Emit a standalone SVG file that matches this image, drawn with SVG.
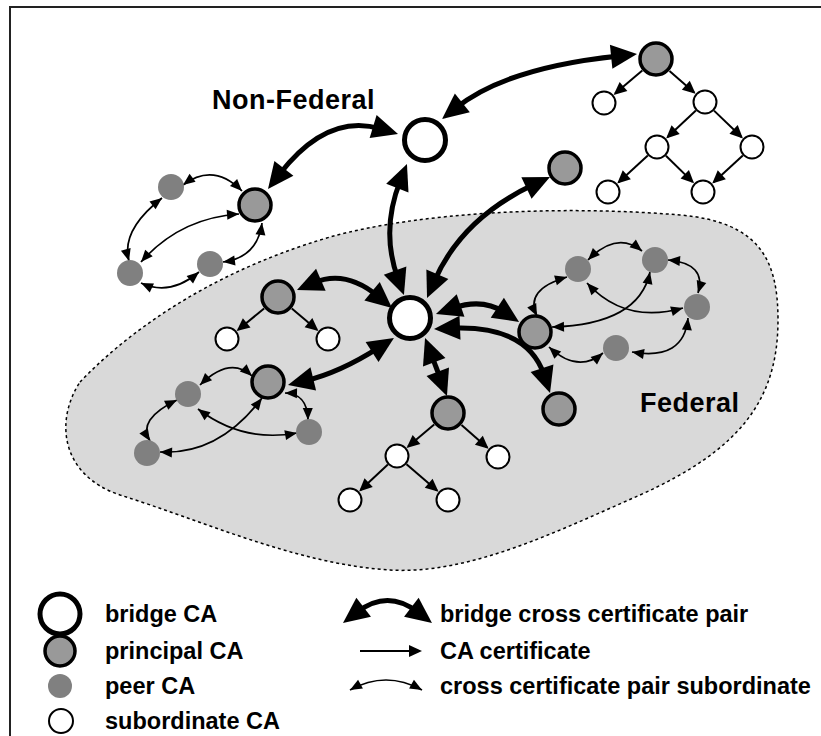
<svg xmlns="http://www.w3.org/2000/svg" width="821" height="736" viewBox="0 0 821 736">
<style>
.bridge{fill:#fff;stroke:#000;stroke-width:5}
.principal{fill:#999;stroke:#000;stroke-width:3.5}
.peer{fill:#808080;stroke:none}
.sub{fill:#fff;stroke:#000;stroke-width:2}
.thick{fill:none;stroke:#000;stroke-width:5;marker-start:url(#bigA);marker-end:url(#bigA)}
.cert{fill:none;stroke:#000;stroke-width:2;marker-end:url(#smA)}
.xpair{fill:none;stroke:#000;stroke-width:1.7;marker-start:url(#xA);marker-end:url(#xA)}
.lbl{font-family:"Liberation Sans",Arial,sans-serif;font-weight:bold;fill:#000}
.big{font-size:27px;letter-spacing:0.5px}
.leg{font-size:23.5px}
</style>
<defs>
<marker id="bigA" markerUnits="userSpaceOnUse" markerWidth="26" markerHeight="24" refX="8" refY="12" orient="auto-start-reverse" overflow="visible"><path d="M0,0 L26,12 L0,24 z" fill="#000"/></marker>
<marker id="smA" markerUnits="userSpaceOnUse" markerWidth="13" markerHeight="12" refX="11" refY="6" orient="auto" overflow="visible"><path d="M0,0 L13,6 L0,12 z" fill="#000"/></marker>
<marker id="xA" markerUnits="userSpaceOnUse" markerWidth="12" markerHeight="10" refX="12" refY="5" orient="auto-start-reverse" overflow="visible"><path d="M0,0 L12,5 L0,10 z" fill="#000"/></marker>
</defs>
<rect x="0" y="0" width="821" height="736" fill="#fff"/>
<rect x="10" y="7" width="840" height="760" fill="none" stroke="#222" stroke-width="2"/>

<g id="federal-region">
<path d="M80,382 C120,340 200,275 330,237 C420,212 560,205 680,215 C760,222 778,260 778,320 C778,400 740,450 640,495 C560,530 470,575 390,570 C300,565 200,520 120,495 C60,475 55,420 80,382 Z" fill="#d9d9d9" stroke="#000" stroke-width="1.5" stroke-dasharray="3,3"/>
</g>

<g id="labels">
<text class="lbl big" x="212" y="109">Non-Federal</text>
<text class="lbl big" x="640" y="412">Federal</text>
</g>

<g id="connectors">
<!-- bridge cross certificate pairs -->
<path class="thick" d="M456.1,107.8 Q506.5,67.5 619.1,55.9"/>
<path class="thick" d="M279,174.7 Q327,112.5 380.8,128.8"/>
<path class="thick" d="M400.3,180.7 Q380.5,230.5 397.8,278.1"/>
<path class="thick" d="M533.7,184.6 Q461.5,218.5 434.2,281.5"/>
<path class="thick" d="M313.5,282.9 Q345.5,269 378.2,296.4"/>
<path class="thick" d="M305.5,380.8 Q340,372.5 378.8,347.7"/>
<path class="thick" d="M431.4,354.8 L440.6,379.2"/>
<path class="thick" d="M453,308.1 Q482.5,298 504,312.1"/>
<path class="thick" d="M452,328.2 Q528,325 544.5,375.9"/>
<!-- CA certificates -->
<path class="cert" d="M642.3,70.6 L615.1,93.6"/>
<path class="cert" d="M669.5,70.9 L694.1,92.4"/>
<path class="cert" d="M695.9,110.6 L667.6,137.1"/>
<path class="cert" d="M714,110.6 L741.5,137"/>
<path class="cert" d="M647.8,155.5 L618.7,182.2"/>
<path class="cert" d="M665.9,155.7 L692.6,181.9"/>
<path class="cert" d="M742.8,155.5 L713.7,182.2"/>
<path class="cert" d="M264.1,308.4 L238.2,329.8"/>
<path class="cert" d="M291.8,308.6 L316.9,329.7"/>
<path class="cert" d="M434.2,424.6 L408.1,446.6"/>
<path class="cert" d="M461.5,424.9 L487.1,447.4"/>
<path class="cert" d="M387.9,464.5 L360.6,490.1"/>
<path class="cert" d="M406.5,464.2 L437,490.5"/>
<!-- cross certificate pair subordinate -->
<path class="xpair" d="M183,185 Q213.5,162 242,191"/>
<path class="xpair" d="M162,198 Q120.5,230.5 129,261"/>
<path class="xpair" d="M141,262 Q180,218 239,214"/>
<path class="xpair" d="M141,283 Q170,296.5 199,272"/>
<path class="xpair" d="M223,262 Q257.5,257.5 262,223"/>
<path class="xpair" d="M200,385 Q230,355.5 252,376"/>
<path class="xpair" d="M177,400 Q136.5,419.5 150,441"/>
<path class="xpair" d="M160,452 Q219,455 262,398"/>
<path class="xpair" d="M198,409 Q242.5,443 297,433"/>
<path class="xpair" d="M285,393 Q307.5,393.5 308,420"/>
<path class="xpair" d="M588,260 Q617,230.5 642,251"/>
<path class="xpair" d="M567,277 Q524,289.5 537,316"/>
<path class="xpair" d="M650,272 Q639,324.5 552,327"/>
<path class="xpair" d="M587,283 Q625,324.5 683,308"/>
<path class="xpair" d="M668,260 Q707,263.5 698,293"/>
<path class="xpair" d="M688,318 Q684,361 632,352"/>
<path class="xpair" d="M549,347 Q578,374 603,353"/>
</g>

<g id="bridge-nonfed"><circle class="bridge" cx="425" cy="140" r="20.5"/></g>
<g id="bridge-fed"><circle class="bridge" cx="410" cy="318" r="20.5"/></g>

<g id="principal-topright"><circle class="principal" cx="656" cy="59" r="16"/></g>
<g id="principal-nonfed"><circle class="principal" cx="255" cy="205" r="16"/></g>
<g id="principal-mid"><circle class="principal" cx="565" cy="168" r="16"/></g>
<g id="principal-fed1"><circle class="principal" cx="278" cy="297" r="16"/></g>
<g id="principal-fed2"><circle class="principal" cx="268" cy="382" r="16"/></g>
<g id="principal-fed3"><circle class="principal" cx="535" cy="332" r="16"/></g>
<g id="principal-fed4"><circle class="principal" cx="559" cy="409" r="16"/></g>
<g id="principal-fed5"><circle class="principal" cx="448" cy="413" r="16"/></g>

<g id="sub-tr1"><circle class="sub" cx="604" cy="103" r="11.5"/></g>
<g id="sub-tr2"><circle class="sub" cx="705" cy="102" r="11.5"/></g>
<g id="sub-tr3"><circle class="sub" cx="657" cy="147" r="11.5"/></g>
<g id="sub-tr4"><circle class="sub" cx="752" cy="147" r="11.5"/></g>
<g id="sub-tr5"><circle class="sub" cx="608" cy="192" r="11.5"/></g>
<g id="sub-tr6"><circle class="sub" cx="703" cy="192" r="11.5"/></g>
<g id="sub-f1"><circle class="sub" cx="227" cy="339" r="11.5"/></g>
<g id="sub-f2"><circle class="sub" cx="328" cy="339" r="11.5"/></g>
<g id="sub-f3"><circle class="sub" cx="397" cy="456" r="11.5"/></g>
<g id="sub-f4"><circle class="sub" cx="498" cy="457" r="11.5"/></g>
<g id="sub-f5"><circle class="sub" cx="350" cy="500" r="11.5"/></g>
<g id="sub-f6"><circle class="sub" cx="448" cy="500" r="11.5"/></g>

<g id="peer-nf1"><circle class="peer" cx="171" cy="187" r="13"/></g>
<g id="peer-nf2"><circle class="peer" cx="130" cy="273" r="13"/></g>
<g id="peer-nf3"><circle class="peer" cx="210" cy="264" r="13"/></g>
<g id="peer-fl1"><circle class="peer" cx="188" cy="394" r="13"/></g>
<g id="peer-fl2"><circle class="peer" cx="147" cy="453" r="13"/></g>
<g id="peer-fl3"><circle class="peer" cx="309" cy="432" r="13"/></g>
<g id="peer-fr1"><circle class="peer" cx="578" cy="269" r="13"/></g>
<g id="peer-fr2"><circle class="peer" cx="655" cy="260" r="13"/></g>
<g id="peer-fr3"><circle class="peer" cx="697" cy="307" r="13"/></g>
<g id="peer-fr4"><circle class="peer" cx="616" cy="348" r="13"/></g>

<g id="legend">
<circle class="bridge" cx="60" cy="614" r="20"/>
<text class="lbl leg" x="105" y="622">bridge CA</text>
<circle class="principal" cx="60" cy="651" r="15"/>
<text class="lbl leg" x="105" y="659">principal CA</text>
<circle class="peer" cx="60" cy="686" r="12"/>
<text class="lbl leg" x="105" y="694">peer CA</text>
<circle class="sub" cx="61" cy="721" r="12"/>
<text class="lbl leg" x="105" y="729">subordinate CA</text>
<path class="thick" d="M357.3,612.1 Q387.5,589 417.7,612.1"/>
<text class="lbl leg" x="440" y="622">bridge cross certificate pair</text>
<path class="cert" d="M360,651 L420,651"/>
<text class="lbl leg" x="440" y="659">CA certificate</text>
<path class="xpair" d="M350,690 Q386,670 422,690"/>
<text class="lbl leg" x="440" y="694">cross certificate pair subordinate</text>
</g>
</svg>
